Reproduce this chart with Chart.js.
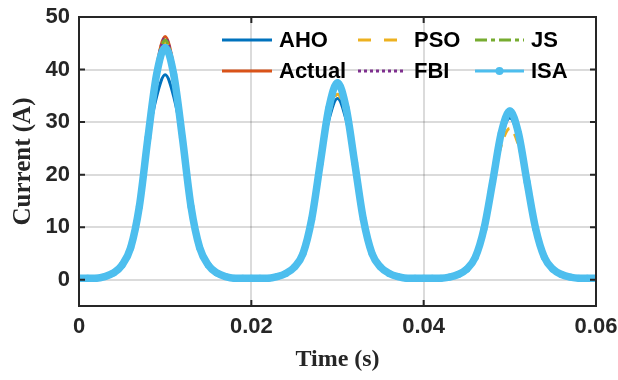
<!DOCTYPE html>
<html>
<head>
<meta charset="utf-8">
<script src="https://cdn.jsdelivr.net/npm/chart.js@4.4.1/dist/chart.umd.min.js"></script>
<style>
html, body { margin: 0; padding: 0; background: #fff; }
#wrap { width: 618px; height: 380px; position: relative; }
</style>
</head>
<body>
<div id="wrap"><canvas id="mycanvas"></canvas></div>
<script>
// time axis (s)
var timeS = [0,0.001,0.002,0.003,0.004,0.005,0.006,0.007,0.008,0.009,
  0.010,0.011,0.012,0.013,0.014,0.015,0.016,0.017,0.018,0.019,
  0.020,0.021,0.022,0.023,0.024,0.025,0.026,0.027,0.028,0.029,
  0.030,0.031,0.032,0.033,0.034,0.035,0.036,0.037,0.038,0.039,
  0.040,0.041,0.042,0.043,0.044,0.045,0.046,0.047,0.048,0.049,
  0.050,0.051,0.052,0.053,0.054,0.055,0.056,0.057,0.058,0.059,0.060];

var actual = [0.3,0.3,0.3,0.6,1.3,2.8,6.1,13.9,27.0,40.3,
  46.3,40.3,27.0,13.9,6.1,2.8,1.3,0.6,0.3,0.3,
  0.3,0.3,0.3,0.6,1.2,2.4,5.0,11.5,22.2,32.9,
  37.8,32.9,22.2,11.5,5.0,2.4,1.2,0.6,0.3,0.3,
  0.3,0.3,0.3,0.5,1.0,2.0,4.3,9.7,18.6,27.5,
  31.7,27.5,18.6,9.7,4.3,2.0,1.0,0.5,0.3,0.3,0.3];

var aho = [0.3,0.3,0.3,0.6,1.3,2.8,6.1,13.9,26.5,34.8,
  39.0,34.8,26.5,13.9,6.1,2.8,1.3,0.6,0.3,0.3,
  0.3,0.3,0.3,0.6,1.2,2.4,5.0,11.5,22.0,30.4,
  34.5,30.4,22.0,11.5,5.0,2.4,1.2,0.6,0.3,0.3,
  0.3,0.3,0.3,0.5,1.0,2.0,4.3,9.7,18.6,27.0,
  30.8,27.0,18.6,9.7,4.3,2.0,1.0,0.5,0.3,0.3,0.3];

var pso = [0.3,0.3,0.3,0.6,1.3,2.8,6.1,13.9,27.0,39.6,
  45.2,39.6,27.0,13.9,6.1,2.8,1.3,0.6,0.3,0.3,
  0.3,0.3,0.3,0.6,1.2,2.4,5.0,11.5,22.0,31.2,
  35.3,31.2,22.0,11.5,5.0,2.4,1.2,0.6,0.3,0.3,
  0.3,0.3,0.3,0.5,1.0,2.0,4.3,9.7,18.2,25.6,
  28.8,25.6,18.2,9.7,4.3,2.0,1.0,0.5,0.3,0.3,0.3];

var fbi = [0.3,0.3,0.3,0.6,1.3,2.8,6.1,13.9,27.0,40.1,
  46.0,40.1,27.0,13.9,6.1,2.8,1.3,0.6,0.3,0.3,
  0.3,0.3,0.3,0.6,1.2,2.4,5.0,11.5,22.2,32.8,
  37.6,32.8,22.2,11.5,5.0,2.4,1.2,0.6,0.3,0.3,
  0.3,0.3,0.3,0.5,1.0,2.0,4.3,9.7,18.6,27.5,
  31.6,27.5,18.6,9.7,4.3,2.0,1.0,0.5,0.3,0.3,0.3];

var js = [0.3,0.3,0.3,0.6,1.3,2.8,6.1,13.9,27.0,39.9,
  45.6,39.9,27.0,13.9,6.1,2.8,1.3,0.6,0.3,0.3,
  0.3,0.3,0.3,0.6,1.2,2.4,5.0,11.5,22.2,32.4,
  37.0,32.4,22.2,11.5,5.0,2.4,1.2,0.6,0.3,0.3,
  0.3,0.3,0.3,0.5,1.0,2.0,4.3,9.7,18.6,27.3,
  31.2,27.3,18.6,9.7,4.3,2.0,1.0,0.5,0.3,0.3,0.3];

var isa = [0.3,0.3,0.3,0.6,1.3,2.8,6.1,13.9,27.0,39.0,
  44.2,39.0,27.0,13.9,6.1,2.8,1.3,0.6,0.3,0.3,
  0.3,0.3,0.3,0.6,1.2,2.4,5.0,11.5,22.2,32.7,
  37.5,32.7,22.2,11.5,5.0,2.4,1.2,0.6,0.3,0.3,
  0.3,0.3,0.3,0.5,1.0,2.0,4.3,9.7,18.6,27.9,
  32.1,27.9,18.6,9.7,4.3,2.0,1.0,0.5,0.3,0.3,0.3];

var xTicks = [0, 0.02, 0.04, 0.06];
var xTickLabels = ['0', '0.02', '0.04', '0.06'];
var yTicks = [0, 10, 20, 30, 40, 50];
var yTickLabels = ['0', '10', '20', '30', '40', '50'];

function pts(arr) {
  return arr.map(function(v, i){ return {x: timeS[i], y: v}; });
}

// legend drawn inside the axes, 3 columns x 2 rows like MATLAB
var legendCols = [{x0: 222, x1: 272, tx: 279}, {x0: 358, x1: 404, tx: 414}, {x0: 475, x1: 524, tx: 531}];
var legendRows = [40, 71];

var innerLegend = {
  id: 'innerLegend',
  afterDraw: function(chart) {
    var c = chart.ctx;
    c.save();
    chart.data.datasets.forEach(function(ds, i){
      var col = legendCols[Math.floor(i / 2)], y = legendRows[i % 2];
      c.strokeStyle = ds.borderColor;
      c.lineWidth = 3;
      c.setLineDash(ds.legendDash || []);
      c.beginPath();
      c.moveTo(col.x0, y);
      c.lineTo(col.x1, y);
      c.stroke();
      c.setLineDash([]);
      if (ds.pointRadius > 0) {
        c.fillStyle = ds.borderColor;
        c.beginPath();
        c.arc((col.x0 + col.x1) / 2, y, 4, 0, Math.PI * 2);
        c.fill();
      }
      c.fillStyle = '#000';
      c.font = 'bold 22px "Liberation Sans", Arial, sans-serif';
      c.textBaseline = 'middle';
      c.textAlign = 'left';
      c.fillText(ds.label, col.tx, y + 1);
    });
    c.restore();
  }
};

var frame = {
  id: 'frame',
  afterDatasetsDraw: function(chart) {
    var c = chart.ctx, a = chart.chartArea, xs = chart.scales.x, ys = chart.scales.y;
    c.save();
    c.strokeStyle = '#262626';
    c.lineWidth = 2;
    c.beginPath();
    xTicks.forEach(function(v){
      var px = xs.getPixelForValue(v);
      c.moveTo(px, a.bottom); c.lineTo(px, a.bottom - 6);
      c.moveTo(px, a.top); c.lineTo(px, a.top + 6);
    });
    yTicks.forEach(function(v){
      var py = ys.getPixelForValue(v);
      c.moveTo(a.left, py); c.lineTo(a.left + 6, py);
      c.moveTo(a.right, py); c.lineTo(a.right - 6, py);
    });
    c.stroke();
    c.strokeRect(a.left, a.top, a.right - a.left, a.bottom - a.top);
    c.restore();
  }
};

var ctx = document.getElementById('mycanvas');
var chart = new Chart(ctx, {
  type: 'line',
  data: {
    datasets: [
      {label: 'AHO', data: pts(aho), borderColor: '#0072BD', borderWidth: 3, pointRadius: 0, order: 6},
      {label: 'Actual', data: pts(actual), borderColor: '#D95319', borderWidth: 3, pointRadius: 0, order: 5},
      {label: 'PSO', data: pts(pso), borderColor: '#EDB120', borderWidth: 3, borderDash: [10, 8], legendDash: [13, 13], pointRadius: 0, order: 4},
      {label: 'FBI', data: pts(fbi), borderColor: '#7E2F8E', borderWidth: 3, borderDash: [3, 3], legendDash: [3, 3], pointRadius: 0, order: 3},
      {label: 'JS', data: pts(js), borderColor: '#77AC30', borderWidth: 3, borderDash: [10, 4, 3, 4], legendDash: [12, 4, 4, 4], pointRadius: 0, order: 2},
      {label: 'ISA', data: pts(isa), borderColor: '#4DBEEE', backgroundColor: '#4DBEEE', borderWidth: 7.5,
        pointRadius: 3.5, pointBorderWidth: 0, pointBackgroundColor: '#4DBEEE', order: 1}
    ]
  },
  options: {
    responsive: true,
    maintainAspectRatio: false,
    animation: false,
    events: [],
    cubicInterpolationMode: 'monotone',
    layout: { padding: { top: 17, right: 22, left: 0, bottom: 0 } },
    plugins: { legend: { display: false }, tooltip: { enabled: false } },
    scales: {
      x: {
        type: 'linear', min: 0, max: 0.06,
        afterBuildTicks: function(s){ s.ticks = xTicks.map(function(v){ return {value: v}; }); },
        afterFit: function(s){ s.height = 74; s.paddingLeft = 0; s.paddingRight = 0; },
        grid: { color: 'rgba(0,0,0,0.14)', lineWidth: 2, drawTicks: false },
        border: { display: false },
        ticks: {
          padding: 8, color: '#262626', maxRotation: 0, autoSkip: false,
          font: { family: '"Liberation Sans", Arial, sans-serif', size: 22, weight: 'bold' },
          callback: function(v, i){ return xTickLabels[i]; }
        },
        title: {
          display: true, text: 'Time (s)', color: '#262626', padding: { bottom: 6 },
          font: { family: '"Liberation Serif", "Times New Roman", serif', size: 24, weight: 'bold' }
        }
      },
      y: {
        min: -5, max: 50,
        afterBuildTicks: function(s){ s.ticks = yTicks.map(function(v){ return {value: v}; }); },
        afterFit: function(s){ s.width = 79; s.paddingTop = 0; s.paddingBottom = 0; },
        grid: { color: 'rgba(0,0,0,0.14)', lineWidth: 2, drawTicks: false },
        border: { display: false },
        ticks: {
          padding: 9, color: '#262626', autoSkip: false,
          font: { family: '"Liberation Sans", Arial, sans-serif', size: 22, weight: 'bold' },
          callback: function(v, i){ return yTickLabels[i]; }
        },
        title: {
          display: true, text: 'Current (A)', color: '#262626', padding: { top: 9 },
          font: { family: '"Liberation Serif", "Times New Roman", serif', size: 25, weight: 'bold' }
        }
      }
    }
  },
  plugins: [frame, innerLegend]
});
</script>
</body>
</html>
